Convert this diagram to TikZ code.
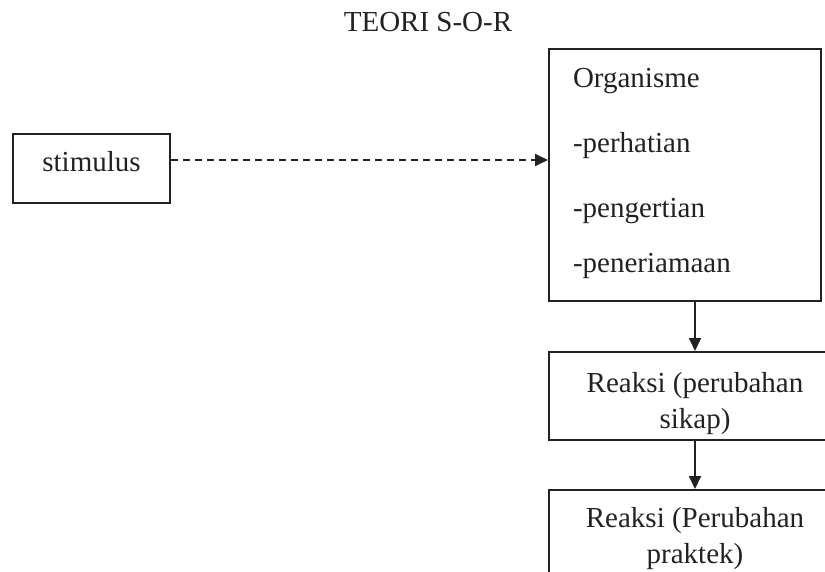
\documentclass[tikz,border=0pt]{standalone}
\usepackage{fontspec}
\setmainfont{Liberation Serif}
\usetikzlibrary{positioning}
\usetikzlibrary{arrows.meta}

\definecolor{ink}{HTML}{222222}

\tikzset{
	sorbox/.style={draw=ink, line width=2pt, text=ink, inner ysep=0pt,
	               font=\fontsize{29}{36}\selectfont},
	sorarrow/.style={draw=ink, line width=1.8pt, -{Triangle[length=13pt,width=12pt]}}
}

\begin{document}
\begin{tikzpicture}[x=1pt, y=-1pt]
	\useasboundingbox (0,0) rectangle (825,572);
	
	% title
	\node (title) [anchor=base, text=ink, font=\fontsize{29}{36}\selectfont] at (428,32) {TEORI S-O-R};
	
	% S
	\node (stim) [sorbox, anchor=base, minimum width=157pt, text height=38pt, text depth=31pt]
	      at (91.5,172) {stimulus};
	
	% O
	\node (org) [sorbox, anchor=north west, text width=224pt, inner xsep=24pt, align=left,
	             text height=39pt, text depth=213pt] at (548,48)
	{ Organisme\\[29pt] -perhatian\\[29pt] -pengertian\\[19pt] -peneriamaan };
	
	% R
	\node (r1) [sorbox, below=49pt of org.south west, anchor=north west, minimum width=292pt,
	            align=center, text height=76pt, text depth=12pt] {Reaksi (perubahan\\ sikap)};
	\node (r2) [sorbox, below=48pt of r1.south west, anchor=north west, minimum width=292pt,
	            align=center, text height=73pt, text depth=40pt] {Reaksi (Perubahan\\ praktek)};
	
	% arrows
	\coordinate (sout) at ([yshift=8.5pt]stim.east);
	\draw [sorarrow, dash pattern=on 7pt off 5pt] (sout) -- (sout -| org.west);
	\draw [sorarrow] (r1.north |- org.south) -- (r1.north);
	\draw [sorarrow] (r2.north |- r1.south) -- (r2.north);
\end{tikzpicture}
\end{document}
